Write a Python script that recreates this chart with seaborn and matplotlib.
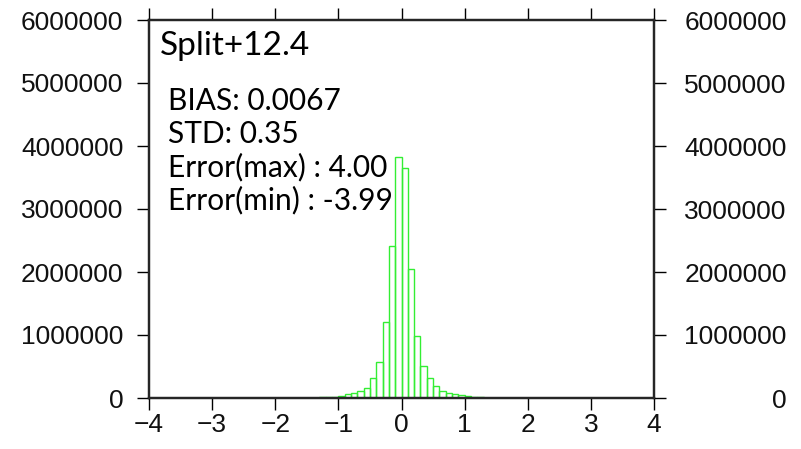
import numpy as np
import pandas as pd
import matplotlib
matplotlib.use("Agg")
import matplotlib.pyplot as plt
import seaborn as sns

# Histogram of errors: bin left edges (step 0.1) and counts per bin
bin_left = [-1.3, -1.2, -1.1, -1.0, -0.9, -0.8, -0.7, -0.6, -0.5, -0.4, -0.3,
            -0.2, -0.1, 0.0, 0.1, 0.2, 0.3, 0.4, 0.5, 0.6, 0.7, 0.8, 0.9,
            1.0, 1.1, 1.2, 1.3]
counts = [8000, 12000, 20000, 36000, 58000, 85000, 118000, 165000, 310000,
          570000, 1200000, 2410000, 3830000, 3650000, 2040000, 980000,
          515000, 310000, 195000, 115000, 85000, 65000, 45000, 28000,
          16000, 10000, 6000]
bin_width = 0.1

title_text = "Split+12.4"
stats_lines = ["BIAS: 0.0067", "STD: 0.35", "Error(max) : 4.00", "Error(min) : -3.99"]

x_ticks = [-4, -3, -2, -1, 0, 1, 2, 3, 4]
y_ticks = [0, 1000000, 2000000, 3000000, 4000000, 5000000, 6000000]

df = pd.DataFrame({"center": np.round(np.array(bin_left) + bin_width / 2, 3),
                   "count": counts})

sns.set_style("white")
plt.rcParams["font.family"] = ["Liberation Sans", "DejaVu Sans"]

W, H = 801, 449
fig = plt.figure(figsize=(W / 100, H / 100), dpi=100)
L, R, T, B = 149, 654, 20, 398
ax = fig.add_axes([L / W, 1 - B / H, (R - L) / W, (B - T) / H])

sns.histplot(data=df, x="center", weights="count", binwidth=bin_width,
             binrange=(bin_left[0], bin_left[-1] + bin_width), fill=False,
             element="bars", color="#33ee33", linewidth=1.0, ax=ax)

ax.set_xlim(-4, 4)
ax.set_ylim(0, 6000000)
ax.set_xlabel("")
ax.set_ylabel("")
ax.set_xticks(x_ticks)
ax.set_xticklabels([f"{v}".replace("-", "\u2212") for v in x_ticks])
ax.set_yticks(y_ticks)
ax.set_yticklabels([str(v) for v in y_ticks])

for s in ax.spines.values():
    s.set_visible(True)
    s.set_linewidth(1.6)
    s.set_color("black")

tick_kw = dict(direction="out", length=8.5, width=1.0, color="black",
               labelsize=19, labelcolor="#111111")
ax.tick_params(axis="x", bottom=True, top=True, labeltop=False, pad=2, **tick_kw)
ax.tick_params(axis="y", left=True, right=False, pad=10, **tick_kw)

ax2 = ax.twinx()
ax2.set_ylim(0, 6000000)
ax2.set_yticks(y_ticks)
ax2.set_yticklabels([str(v) for v in y_ticks])
ax2.tick_params(axis="y", right=True, pad=87, **tick_kw)
for lab in ax2.get_yticklabels():
    lab.set_horizontalalignment("right")
for s in ax2.spines.values():
    s.set_linewidth(1.6)

ann_font = ["Lato", "DejaVu Sans"]
fig.text(160 / W, 1 - 46 / H, title_text, fontsize=24, family=ann_font,
         ha="left", va="center", color="black")
line_y = [101, 134, 167, 200]
for txt, yy in zip(stats_lines, line_y):
    fig.text(168 / W, 1 - yy / H, txt, fontsize=21.5, family=ann_font,
             ha="left", va="center", color="black")

fig.savefig("out.png", dpi=100)
